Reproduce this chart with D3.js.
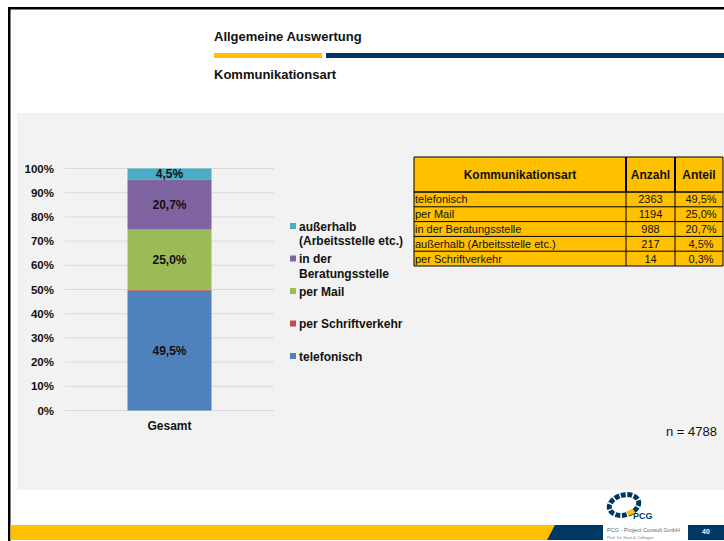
<!DOCTYPE html>
<html>
<head>
<meta charset="utf-8">
<script src="https://cdn.jsdelivr.net/npm/d3@7"></script>
<style>
  html, body { margin: 0; padding: 0; background: #fff; }
  svg { display: block; font-family: "Liberation Sans", Arial, sans-serif; }
</style>
</head>
<body>
<svg id="chart" width="724" height="541"></svg>
<script>
// ---- data ----
const pageTitle = "Allgemeine Auswertung";
const subTitle = "Kommunikationsart";
const stackCategories = ["telefonisch", "per Schriftverkehr", "per Mail", "in der Beratungsstelle", "außerhalb (Arbeitsstelle etc.)"];
const stackShares = [49.5, 0.3, 25.0, 20.7, 4.5];
const stackColors = ["#4f81bd", "#c0504d", "#9bbb59", "#8064a2", "#4bacc6"];
const shareLabels = ["49,5%", "", "25,0%", "20,7%", "4,5%"];
const xCategory = ["Gesamt"];
const yTicks = [0, 10, 20, 30, 40, 50, 60, 70, 80, 90, 100];
const legendLines = [["außerhalb", "(Arbeitsstelle etc.)"], ["in der", "Beratungsstelle"], ["per Mail"], ["per Schriftverkehr"], ["telefonisch"]];
const legendColors = ["#4bacc6", "#8064a2", "#9bbb59", "#c0504d", "#4f81bd"];
const tableHeader = ["Kommunikationsart", "Anzahl", "Anteil"];
const tableNames = ["telefonisch", "per Mail", "in der Beratungsstelle", "außerhalb (Arbeitsstelle etc.)", "per Schriftverkehr"];
const tableCounts = [2363, 1194, 988, 217, 14];
const tableShares = ["49,5%", "25,0%", "20,7%", "4,5%", "0,3%"];
const nTotal = "n = 4788";

const svg = d3.select("#chart");
const navy = "#003865", gold = "#ffc000";

// ---- page frame ----
svg.append("rect").attr("x", 17).attr("y", 113).attr("width", 707).attr("height", 377).attr("fill", "#f2f2f2");
svg.append("rect").attr("x", 8).attr("y", 7).attr("width", 716).attr("height", 2.5).attr("fill", "#000");
svg.append("rect").attr("x", 8).attr("y", 7).attr("width", 2.5).attr("height", 534).attr("fill", "#000");

svg.append("text").attr("x", 214).attr("y", 41).attr("font-size", 13).attr("font-weight", "bold").attr("fill", "#111").text(pageTitle);
svg.append("rect").attr("x", 214).attr("y", 53).attr("width", 108).attr("height", 5).attr("fill", gold);
svg.append("rect").attr("x", 326).attr("y", 53).attr("width", 398).attr("height", 5).attr("fill", navy);
svg.append("text").attr("x", 214).attr("y", 79).attr("font-size", 13).attr("font-weight", "bold").attr("fill", "#111").text(subTitle);

// ---- chart ----
const y = d3.scaleLinear().domain([0, 100]).range([410.5, 168.5]);
const x = d3.scaleBand().domain(xCategory).range([65, 274]).paddingInner(0).paddingOuter(0.3);

const g = svg.append("g");
g.selectAll("line.grid").data(yTicks).join("line")
  .attr("x1", 65).attr("x2", 274)
  .attr("y1", d => y(d)).attr("y2", d => y(d))
  .attr("stroke", "#d9d9d9").attr("stroke-width", 1);

const yAxis = d3.axisLeft(y).tickValues(yTicks).tickFormat(d => d + "%").tickSize(0).tickPadding(0);
const ya = g.append("g").attr("transform", "translate(54,0)").call(yAxis);
ya.select(".domain").remove();
ya.selectAll("text").attr("font-size", 11.5).attr("font-weight", "bold").attr("fill", "#111")
  .attr("font-family", "Liberation Sans, Arial, sans-serif");

const stackData = [Object.fromEntries(stackCategories.map((c, i) => [c, stackShares[i]]))];
const series = d3.stack().keys(stackCategories)(stackData);
const bw = 84;
const bx = x("Gesamt") + x.bandwidth() / 2 - bw / 2;
g.selectAll("rect.seg").data(series).join("rect")
  .attr("x", bx).attr("width", bw)
  .attr("y", d => y(d[0][1])).attr("height", d => y(d[0][0]) - y(d[0][1]))
  .attr("fill", (d, i) => stackColors[i]);
g.selectAll("text.seg").data(series).join("text")
  .attr("x", bx + bw / 2).attr("y", d => (y(d[0][0]) + y(d[0][1])) / 2 + 4.5)
  .attr("text-anchor", "middle").attr("font-size", 12).attr("font-weight", "bold").attr("fill", "#111")
  .text((d, i) => shareLabels[i]);

const xAxis = d3.axisBottom(x).tickSize(0).tickPadding(0);
const xa = g.append("g").attr("transform", "translate(0,421)").call(xAxis);
xa.select(".domain").remove();
xa.selectAll("text").attr("font-size", 12).attr("font-weight", "bold").attr("fill", "#111")
  .attr("font-family", "Liberation Sans, Arial, sans-serif").attr("dy", "0.71em");

// ---- legend ----
const ly = d3.scalePoint().domain(d3.range(legendLines.length)).range([226, 356]);
const leg = svg.append("g");
legendLines.forEach((lines, i) => {
  const cy = ly(i);
  leg.append("rect").attr("x", 290).attr("y", cy - 3).attr("width", 6).attr("height", 6).attr("fill", legendColors[i]);
  lines.forEach((t, j) => {
    leg.append("text").attr("x", 299).attr("y", cy + 4.5 + j * 14.5)
      .attr("font-size", 12).attr("font-weight", "bold").attr("fill", "#111").text(t);
  });
});

// ---- table ----
const tx = [414, 626, 675, 723];
const headTop = 157, headBot = 192, rowH = 14.8;
const tb = svg.append("g");
const nRows = tableNames.length;
const tBottom = headBot + nRows * rowH;
tb.append("rect").attr("x", tx[0]).attr("y", headTop).attr("width", tx[3] - tx[0]).attr("height", tBottom - headTop).attr("fill", gold);
tableHeader.forEach((h, i) => {
  tb.append("text").attr("x", (tx[i] + tx[i + 1]) / 2).attr("y", (headTop + headBot) / 2 + 4.5)
    .attr("text-anchor", "middle").attr("font-size", 12).attr("font-weight", "bold").attr("fill", "#111").text(h);
});
tableNames.forEach((nm, r) => {
  const cy = headBot + r * rowH + rowH / 2 + 4;
  tb.append("text").attr("x", tx[0] + 1).attr("y", cy).attr("font-size", 11).attr("fill", "#111").text(nm);
  tb.append("text").attr("x", (tx[1] + tx[2]) / 2).attr("y", cy).attr("text-anchor", "middle").attr("font-size", 11).attr("fill", "#111").text(tableCounts[r]);
  tb.append("text").attr("x", (tx[2] + tx[3]) / 2 + 2).attr("y", cy).attr("text-anchor", "middle").attr("font-size", 11).attr("fill", "#111").text(tableShares[r]);
});
d3.range(nRows + 1).forEach(r => {
  const yy = headBot + r * rowH;
  tb.append("line").attr("x1", tx[0]).attr("x2", tx[3]).attr("y1", yy).attr("y2", yy).attr("stroke", "#000").attr("stroke-width", r === 0 ? 1.5 : 1);
});
tb.append("line").attr("x1", tx[0]).attr("x2", tx[3]).attr("y1", headTop).attr("y2", headTop).attr("stroke", "#000").attr("stroke-width", 1);
tx.forEach((xx, i) => {
  tb.append("line").attr("x1", xx).attr("x2", xx).attr("y1", headTop).attr("y2", headBot).attr("stroke", "#000").attr("stroke-width", (i === 1 || i === 2) ? 2 : 1);
  tb.append("line").attr("x1", xx).attr("x2", xx).attr("y1", headBot).attr("y2", tBottom).attr("stroke", "#000").attr("stroke-width", 1);
});

svg.append("text").attr("x", 717).attr("y", 436).attr("text-anchor", "end").attr("font-size", 13).attr("fill", "#111").text(nTotal);

// ---- footer ----
svg.append("rect").attr("x", 10.5).attr("y", 525).attr("width", 545).attr("height", 15).attr("fill", gold);
svg.append("path").attr("d", "M555,525 L603,525 L603,540 L547,540 Z").attr("fill", navy);
svg.append("rect").attr("x", 688).attr("y", 525).attr("width", 36).attr("height", 15).attr("fill", navy);
svg.append("text").attr("x", 706).attr("y", 533.5).attr("text-anchor", "middle").attr("font-size", 7).attr("font-weight", "bold").attr("fill", "#fff").text("40");
svg.append("text").attr("x", 607).attr("y", 532).attr("font-size", 5.6).attr("fill", "#666").text("PCG - Project Consult GmbH");
svg.append("text").attr("x", 607).attr("y", 539).attr("font-size", 4.2).attr("fill", "#777").text("Prof. Dr. Kost & Collegen");
// logo
svg.append("ellipse").attr("cx", 624).attr("cy", 505).attr("rx", 15).attr("ry", 10)
  .attr("fill", "none").attr("stroke", navy).attr("stroke-width", 5).attr("stroke-dasharray", "5 1.5")
  .attr("transform", "rotate(-15 624 505)");
svg.append("rect").attr("x", 627).attr("y", 510).attr("width", 7).attr("height", 5).attr("fill", gold).attr("transform", "rotate(-20 630 512)");
svg.append("text").attr("x", 633).attr("y", 519).attr("font-size", 9).attr("font-weight", "bold").attr("fill", navy).text("PCG");
</script>
</body>
</html>
